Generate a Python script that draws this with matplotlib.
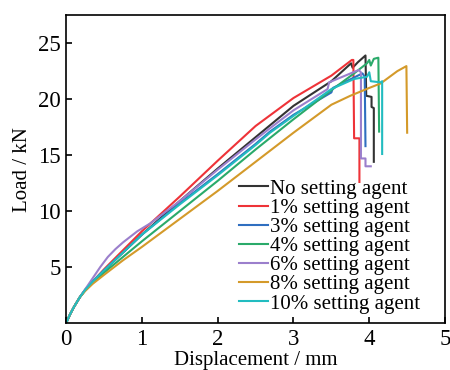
import matplotlib
matplotlib.use('Agg')
import matplotlib.pyplot as plt

# Curvas carga-desplazamiento
x_none = [0, 0.05, 0.1, 0.18, 0.25, 0.35, 0.5, 0.75, 1.0, 1.5, 2.0, 2.5, 3.0, 3.5, 3.76, 3.78, 3.85, 3.95, 3.96, 4.03, 4.03, 4.06, 4.06]
y_none = [0, 0.75, 1.4, 2.3, 2.95, 3.7, 4.7, 6.3, 7.9, 10.9, 13.8, 16.6, 19.4, 21.6, 23.2, 22.8, 23.3, 23.9, 20.3, 20.2, 19.3, 19.2, 14.4]

x_1 = [0, 0.05, 0.1, 0.18, 0.25, 0.35, 0.5, 0.75, 1.0, 1.5, 2.0, 2.5, 3.0, 3.5, 3.77, 3.79, 3.80, 3.87, 3.87]
y_1 = [0, 0.75, 1.4, 2.3, 2.95, 3.7, 4.8, 6.5, 8.2, 11.3, 14.5, 17.6, 20.1, 22.1, 23.5, 23.5, 16.5, 16.5, 12.6]

x_3 = [0, 0.05, 0.1, 0.18, 0.25, 0.35, 0.5, 0.75, 1.0, 1.5, 2.0, 2.5, 2.69, 3.0, 3.5, 3.52, 3.7, 3.91, 3.94, 3.95]
y_3 = [0, 0.75, 1.4, 2.3, 2.95, 3.7, 4.7, 6.3, 7.9, 10.7, 13.3, 16.0, 17.1, 18.6, 20.6, 21.0, 21.6, 22.3, 22.0, 15.8]

x_4 = [0, 0.05, 0.1, 0.18, 0.25, 0.35, 0.5, 0.75, 1.0, 1.5, 2.0, 2.5, 3.0, 3.5, 3.8, 3.97, 4.0, 4.02, 4.06, 4.12, 4.13]
y_4 = [0, 0.75, 1.4, 2.3, 2.9, 3.6, 4.5, 5.9, 7.3, 10.0, 12.7, 15.5, 18.2, 20.8, 22.3, 23.2, 23.5, 23.0, 23.6, 23.7, 17.1]

x_6 = [0, 0.05, 0.1, 0.18, 0.25, 0.35, 0.45, 0.55, 0.65, 0.75, 0.94, 1.11, 1.5, 2.0, 2.5, 2.69, 3.0, 3.45, 3.47, 3.86, 3.89, 3.89, 3.95, 3.95, 4.02]
y_6 = [0, 0.75, 1.4, 2.3, 3.0, 4.0, 5.0, 5.9, 6.6, 7.2, 8.2, 8.9, 10.9, 13.7, 16.4, 17.4, 19.0, 20.9, 21.5, 22.6, 22.4, 14.7, 14.7, 14.0, 14.0]

x_8 = [0, 0.05, 0.1, 0.18, 0.25, 0.35, 0.5, 0.75, 1.0, 1.5, 2.0, 2.5, 3.0, 3.5, 3.75, 4.0, 4.15, 4.37, 4.49, 4.5]
y_8 = [0, 0.75, 1.4, 2.3, 2.85, 3.5, 4.3, 5.6, 6.8, 9.3, 11.8, 14.4, 17.0, 19.5, 20.3, 21.0, 21.4, 22.5, 22.95, 17.0]

x_10 = [0, 0.05, 0.1, 0.18, 0.25, 0.35, 0.5, 0.75, 1.0, 1.5, 2.0, 2.5, 2.69, 3.0, 3.5, 3.8, 3.97, 4.0, 4.02, 4.15, 4.17, 4.17]
y_10 = [0, 0.75, 1.4, 2.3, 2.95, 3.7, 4.7, 6.3, 7.9, 10.6, 13.2, 15.9, 17.0, 18.5, 20.9, 21.8, 22.0, 22.4, 21.6, 21.5, 21.6, 15.1]

series = [
    ('No setting agent', x_none, y_none, '#333333'),
    ('1% setting agent', x_1, y_1, '#ee3338'),
    ('3% setting agent', x_3, y_3, '#2f6fc0'),
    ('4% setting agent', x_4, y_4, '#2aaa6a'),
    ('6% setting agent', x_6, y_6, '#9b7fcc'),
    ('8% setting agent', x_8, y_8, '#d49a2a'),
    ('10% setting agent', x_10, y_10, '#22bcc0'),
]

plt.rcParams['font.family'] = 'Liberation Serif'
plt.rcParams['font.size'] = 15

fig = plt.figure(figsize=(4.5, 3.7), dpi=100)
ax = fig.add_axes([0.147, 0.127, 0.842, 0.832])

for label, xs, ys, color in series:
    ax.plot(xs, ys, color=color, lw=1.5, label=label)

ax.set_xlim(0, 5)
ax.set_ylim(0, 27.5)
ax.set_xticks([0, 1, 2, 3, 4, 5])
ax.set_yticks([5, 10, 15, 20, 25])
ax.tick_params(direction='in', length=4, width=1.2, top=False, right=False, pad=4, labelsize=16.5)
for s in ax.spines.values():
    s.set_linewidth(1.2)
ax.set_xlabel('Displacement / mm', labelpad=1)
ax.set_ylabel('Load / kN', labelpad=4)

ax.legend(loc='lower right', frameon=False, handlelength=1.4, handletextpad=0.1,
          labelspacing=-0.02, borderaxespad=0.05, bbox_to_anchor=(0.96, 0.0))

plt.savefig('out.png', dpi=100)
plt.close()
